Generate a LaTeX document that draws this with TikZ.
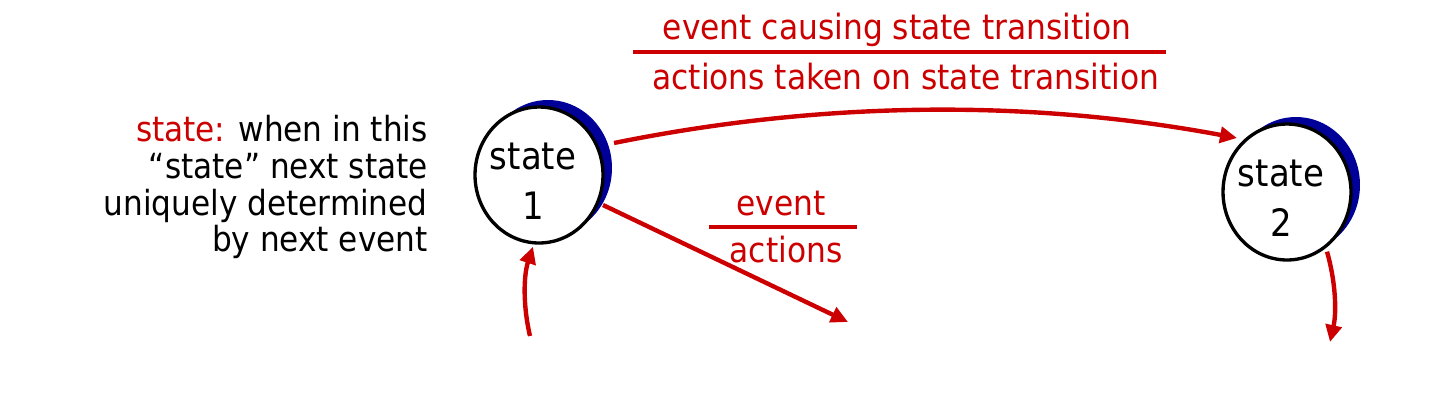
\documentclass[tikz,border=0pt]{standalone}
\usepackage{fontspec}
\setmainfont{DejaVu Sans Condensed}
\usetikzlibrary{arrows.meta,shapes.geometric,shadows,calc}
\definecolor{fsmred}{RGB}{204,0,0}
\definecolor{shadowblue}{RGB}{0,0,153}
\newcommand{\statetext}[1]{\raisebox{-0.38cm}[0pt][0pt]{\makebox[0pt]{\hspace*{-0.24cm}\begin{tabular}{@{}c@{}}state\\#1\end{tabular}}}}
\begin{document}
\begin{tikzpicture}[x=0.02cm,y=-0.02cm,
  statenode/.style={ellipse,draw=black,line width=1.9pt,fill=white,
    minimum width=2.56cm,minimum height=2.72cm,inner sep=0pt,align=center,
    font=\fontsize{21.5}{28.5}\selectfont,
    general shadow={fill=shadowblue,shadow xshift=0.18cm,shadow yshift=0.14cm}},
  trans/.style={draw=fsmred,line width=2.5pt,-{Triangle[length=0.34cm,width=0.32cm]}},
  sepline/.style={draw=fsmred,line width=1.9pt},
  redtext/.style={text=fsmred,inner sep=0pt,font=\fontsize{19.8}{21}\selectfont},
  label/.style={inner sep=0pt,align=right,font=\fontsize{19.7}{21}\selectfont}]
\useasboundingbox (0,0) rectangle (1447,400);
% states
\node[statenode] (s1) at (539,175) {\statetext{1}};
\node[statenode] (s2) at (1287,192) {\statetext{2}};
% left description
\node[label,anchor=east] (desc) at (428,187)
  {\textcolor{fsmred}{state:} when in this\\“state” next state\\uniquely determined\\by next event};
% top label
\node[redtext] (ev1) at (897,30) {event causing state transition};
\node[redtext] (ac1) at (906,77) {actions taken on state transition};
\coordinate (l1a) at (633,52);
\coordinate (l1b) at (1166,52);
\draw[sepline] (l1a) -- (l1b);
% middle label
\node[redtext] (ev2) at (781,204) {event};
\node[redtext] (ac2) at (786,250) {actions};
\coordinate (l2a) at (709,227);
\coordinate (l2b) at (857,227);
\draw[sepline] (l2a) -- (l2b);
% transitions
\coordinate (a1s) at ($(s1.center)+(75,-32)$);
\coordinate (a1e) at ($(s2.center)+(-50,-54)$);
\draw[trans] (a1s) .. controls (821,101) and (1029,99) .. (a1e);
\coordinate (a2s) at ($(s1.center)+(64,30)$);
\coordinate (a2e) at (848,322);
\draw[trans] (a2s) -- (a2e);
\coordinate (a3s) at (530,336);
\coordinate (a3e) at ($(s1.south)+(-6,2)$);
\draw[trans] (a3s) .. controls (522.7,305) and (523.7,275) .. (a3e);
\coordinate (a4s) at ($(s2.south)+(40,-10)$);
\coordinate (a4e) at (1330,342);
\draw[trans] (a4s) .. controls (1335.7,282) and (1336.7,312) .. (a4e);
\end{tikzpicture}
\end{document}
